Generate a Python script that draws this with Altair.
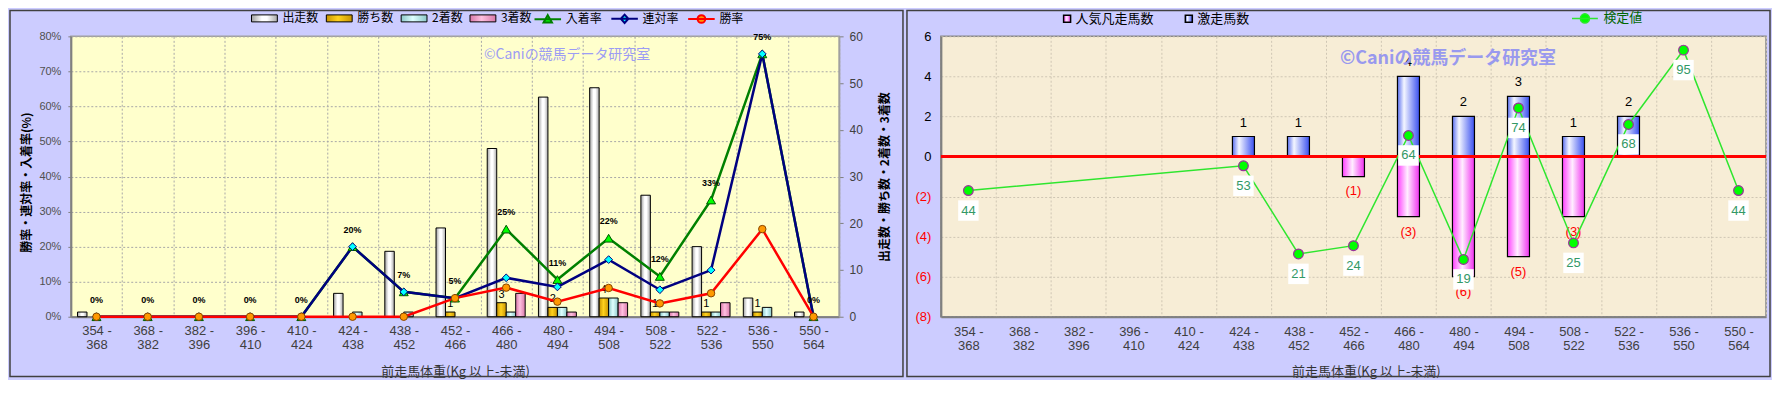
import altair as alt
import pandas as pd

# ---------------- data ----------------
CATS = ["354 - 368", "368 - 382", "382 - 396", "396 - 410", "410 - 424",
        "424 - 438", "438 - 452", "452 - 466", "466 - 480", "480 - 494",
        "494 - 508", "508 - 522", "522 - 536", "536 - 550", "550 - 564"]

BAR_NAMES = ["出走数", "勝ち数", "2着数", "3着数"]
RUNS = [1, 0, 0, 0, 0, 5, 14, 19, 36, 47, 49, 26, 15, 4, 1]
WINS = [0, 0, 0, 0, 0, 0, 0, 1, 3, 2, 4, 1, 1, 1, 0]
SECONDS = [0, 0, 0, 0, 0, 1, 1, 0, 1, 2, 4, 1, 1, 2, 0]
THIRDS = [0, 0, 0, 0, 0, 0, 0, 0, 5, 1, 3, 1, 3, 0, 0]

LINE_NAMES = ["入着率", "連対率", "勝率"]
PLACE_RATE = [0, 0, 0, 0, 0, 20, 7.1, 5.3, 25, 10.6, 22.4, 11.5, 33.3, 75, 0]
REN_RATE = [0, 0, 0, 0, 0, 20, 7.1, 5.3, 11.1, 8.5, 16.3, 7.7, 13.3, 75, 0]
WIN_RATE = [0, 0, 0, 0, 0, 0, 0, 5.3, 8.3, 4.3, 8.2, 3.8, 6.7, 25, 0]

R_NAMES = ["人気凡走馬数", "激走馬数"]
BONSO = [0, 0, 0, 0, 0, 0, 0, -1, -3, -6, -5, -3, 0, 0, 0]
GEKISO = [0, 0, 0, 0, 0, 1, 1, 0, 4, 2, 3, 1, 2, 0, 0]
KENTEI_NAME = "検定値"
KENTEI = [44, None, None, None, None, 53, 21, 24, 64, 19, 74, 25, 68, 95, 44]

WATERMARK = "©Caniの競馬データ研究室"
X_TITLE = "前走馬体重(Kg 以上-未満)"

# ---------------- tables ----------------
bar_df = pd.DataFrame([{"cat": c, "series": n, "v": arr[i]}
                       for i, c in enumerate(CATS)
                       for n, arr in zip(BAR_NAMES, [RUNS, WINS, SECONDS, THIRDS])])
line_df = pd.DataFrame([{"cat": c, "series": n, "v": arr[i]}
                        for i, c in enumerate(CATS)
                        for n, arr in zip(LINE_NAMES, [PLACE_RATE, REN_RATE, WIN_RATE])])
rbar_df = pd.DataFrame([{"cat": c, "series": n, "v": arr[i]}
                        for i, c in enumerate(CATS)
                        for n, arr in zip(R_NAMES, [BONSO, GEKISO])])
k_df = pd.DataFrame([{"cat": c, "k": KENTEI[i], "name": KENTEI_NAME}
                     for i, c in enumerate(CATS) if KENTEI[i] is not None])
wm_df = pd.DataFrame({"t": [WATERMARK]})
zero_df = pd.DataFrame({"v": [0]})

# ---------------- styles ----------------
JP = "Noto Sans CJK JP"
LAT = "Liberation Sans"
W1, W2, H = 770, 827, 281


def grad(stops):
    s = ",".join("{offset:%s,color:'%s'}" % (o, c) for o, c in stops)
    return {"expr": "{gradient:'linear',x1:0,y1:0,x2:1,y2:0,stops:[" + s + "]}"}


BAR_FILLS = [
    grad([(0, "#A0A0A0"), (0.4, "#FFFFFF"), (0.6, "#FFFFFF"), (1, "#A8A8A8")]),
    grad([(0, "#C89400"), (0.45, "#FFD21E"), (1, "#C89400")]),
    grad([(0, "#8CC8C8"), (0.45, "#DFFFFF"), (1, "#8CC8C8")]),
    grad([(0, "#D878A8"), (0.45, "#FFC0E0"), (1, "#D878A8")]),
]
LINE_COLORS = ["#008000", "#000080", "#FF0000"]
MARK_FILLS = ["#00FF00", "#00FFFF", "#FF9900"]
MARK_STROKES = ["#005500", "#000080", "#884400"]
MARK_SHAPES = ["triangle-up", "diamond", "circle"]
MARK_SIZES = [80, 60, 56]
R_FILLS = [
    grad([(0, "#FF40FF"), (0.45, "#FFEEFF"), (1, "#F030F0")]),
    grad([(0, "#5A6FF0"), (0.3, "#F4F6FF"), (1, "#3A50F0")]),
]

LINE_PART = "M-3.8,0H3.8"
LEG_PATHS = [LINE_PART + "M0,-1.2L1.2,0.9L-1.2,0.9Z",
             LINE_PART + "M0,-1.2L1.1,0L0,1.2L-1.1,0Z",
             LINE_PART + "M1.1,0A1.1,1.1,0,1,1,-1.1,0A1.1,1.1,0,1,1,1.1,0Z"]
LEG_BAR_PATH = "M-3.7,-1H3.7V1H-3.7Z"
K_PATH = "M-3.7,0H3.7M1.3,0A1.3,1.3,0,1,1,-1.3,0A1.3,1.3,0,1,1,1.3,0Z"

LAB = ("datum.label ? [split(datum.label,' - ')[0] + ' -', split(datum.label,' - ')[1]] : ''")

LEG1 = alt.Legend(title=None, orient="none", legendX=188, legendY=-24, direction="horizontal",
                  symbolType=LEG_BAR_PATH, symbolSize=49, symbolStrokeColor="black",
                  symbolStrokeWidth=1, labelFont=JP, labelFontSize=12, labelColor="black",
                  labelOffset=12, columnPadding=5, padding=0)
LEG2 = alt.Legend(title=None, orient="none", legendX=472, legendY=-24, direction="horizontal",
                  symbolSize=49, symbolStrokeWidth=2, labelFont=JP, labelFontSize=12,
                  labelColor="black", labelOffset=12, columnPadding=4, padding=0)
LEG3 = alt.Legend(title=None, orient="none", legendX=120, legendY=-24.5, direction="horizontal",
                  symbolType="square", symbolSize=49, symbolStrokeColor="black",
                  symbolStrokeWidth=1.5, labelFont=JP, labelFontSize=13, labelColor="black",
                  labelOffset=2, columnPadding=28, padding=0)
LEG4 = alt.Legend(title=None, orient="none", legendX=639, legendY=-24.5, direction="horizontal",
                  symbolType=K_PATH, symbolSize=49, symbolFillColor="#00FF00",
                  symbolStrokeWidth=1.5, labelFont=JP, labelFontSize=13, labelColor="#006600",
                  labelOffset=12, padding=0)

# ---------------- left panel ----------------
xL = alt.X("cat:N", sort=CATS, scale=alt.Scale(domain=CATS, paddingInner=0, paddingOuter=0),
           axis=alt.Axis(title=X_TITLE, labelExpr=LAB, labelAngle=0, labelFont=LAT, labelFontSize=13,
                         labelColor="#404040", labelLineHeight=14, labelPadding=8, ticks=False,
                         tickBand="extent", grid=True, gridColor="#A8A8A8", gridDash=[2, 2],
                         domainColor="#808080", domainWidth=2, titleFont=JP, titleFontSize=13,
                         titleFontWeight="normal", titleColor="#333333", titleY=55,
                         titleBaseline="middle"))
xoff = alt.XOffset("series:N", sort=BAR_NAMES,
                   scale=alt.Scale(domain=BAR_NAMES, paddingInner=0, paddingOuter=0.7))

yC = alt.Y("v:Q", scale=alt.Scale(domain=[0, 60], nice=False),
           axis=alt.Axis(orient="right", values=[0, 10, 20, 30, 40, 50, 60],
                         title="出走数・勝ち数・2着数・3着数", grid=False, labelFont=LAT,
                         labelFontSize=12, labelColor="#404040", tickSize=4, tickColor="#808080",
                         labelPadding=6, domainColor="#A0A0A0", domainWidth=1.5, titleFont=JP,
                         titleFontSize=12, titleFontWeight="bold", titleColor="black",
                         titleAngle=270, titleX=45, titleBaseline="middle"))

bars = alt.Chart(bar_df).transform_filter("datum.v > 0").mark_bar(
    stroke="black", strokeWidth=1).encode(
    x=xL, xOffset=xoff, y=yC,
    fill=alt.Fill("series:N", sort=BAR_NAMES,
                  scale=alt.Scale(domain=BAR_NAMES, range=BAR_FILLS), legend=LEG1))

win_lbl = alt.Chart(bar_df).transform_filter(
    "datum.series == '勝ち数' && datum.v > 0").mark_text(
    font=LAT, fontSize=11, baseline="bottom", dy=-3, color="black").encode(
    x=xL, xOffset=xoff, y=yC, text="v:Q")

bar_group = alt.layer(bars, win_lbl)

yP = alt.Y("v:Q", scale=alt.Scale(domain=[0, 80], nice=False),
           axis=alt.Axis(orient="left", values=list(range(0, 81, 10)),
                         labelExpr="datum.value + '%'", title="勝率・連対率・入着率(%)",
                         grid=True, gridColor="#A8A8A8", gridDash=[2, 2], labelFont=LAT,
                         labelFontSize=11, labelColor="#505050", tickSize=3, tickColor="#808080",
                         labelPadding=7, domainColor="#808080", domainWidth=2, titleFont=JP,
                         titleFontSize=12, titleFontWeight="bold", titleColor="black",
                         titleAngle=270, titleX=-44, titleY=146, titleBaseline="middle"))

stroke_scale = alt.Scale(domain=LINE_NAMES, range=LINE_COLORS)
lines = alt.Chart(line_df).mark_line(strokeWidth=2.5).encode(
    x=xL, y=yP, stroke=alt.Stroke("series:N", sort=LINE_NAMES, scale=stroke_scale, legend=LEG2))

point_layers = []
for name, shp, fc, sc, sz in zip(LINE_NAMES, MARK_SHAPES, MARK_FILLS, MARK_STROKES, MARK_SIZES):
    point_layers.append(
        alt.Chart(line_df).transform_filter("datum.series == '%s'" % name).mark_point(
            shape=shp, filled=True, fill=fc, stroke=sc, strokeWidth=1, size=sz, opacity=1
        ).encode(x=xL, y=yP))

hidden = alt.Chart(line_df).transform_filter("false").mark_point(filled=True, opacity=1).encode(
    x=xL, y=yP,
    stroke=alt.Stroke("series:N", sort=LINE_NAMES, scale=stroke_scale, legend=LEG2),
    color=alt.Color("series:N", sort=LINE_NAMES,
                    scale=alt.Scale(domain=LINE_NAMES, range=MARK_FILLS), legend=LEG2),
    shape=alt.Shape("series:N", sort=LINE_NAMES,
                    scale=alt.Scale(domain=LINE_NAMES, range=LEG_PATHS), legend=LEG2))

pct = alt.Chart(line_df).transform_filter("datum.series == '入着率'").transform_calculate(
    lbl="format(datum.v, '.0f') + '%'").mark_text(
    font=LAT, fontSize=9, fontWeight="bold", dy=-17, color="black").encode(
    x=xL, y=yP, text="lbl:N")

line_group = alt.layer(lines, *point_layers, hidden, pct)

frame1 = alt.Chart(wm_df).mark_rect(filled=False, stroke="#404040", strokeWidth=1.5).encode(
    x=alt.value(-61), x2=alt.value(W1 + 64), y=alt.value(-26), y2=alt.value(H + 60))
wm1 = alt.Chart(wm_df).mark_text(align="left", baseline="middle", font=JP, fontSize=14,
                                 color="#9C9CF4").encode(
    x=alt.value(414), y=alt.value(19), text="t:N")

left = alt.layer(frame1, bar_group, line_group, wm1).resolve_scale(y="independent").properties(
    width=W1, height=H, view=alt.ViewBackground(fill="#FFFFCC", stroke="#A0A0A0", strokeWidth=1.5))

# ---------------- right panel ----------------
xR = alt.X("cat:N", sort=CATS, scale=alt.Scale(domain=CATS, paddingInner=0, paddingOuter=0),
           axis=alt.Axis(title=X_TITLE, labelExpr=LAB, labelAngle=0, labelFont=LAT, labelFontSize=13,
                         labelColor="#404040", labelLineHeight=14, labelPadding=9, ticks=False,
                         tickBand="extent", grid=True, gridColor="#CFC6B4", gridDash=[2, 2],
                         domainColor="#808080", domainWidth=2, titleFont=JP, titleFontSize=13,
                         titleFontWeight="normal", titleColor="#333333", titleX=426, titleY=55,
                         titleBaseline="middle"))
yR = alt.Y("v:Q", scale=alt.Scale(domain=[-8, 6], nice=False),
           axis=alt.Axis(values=list(range(-8, 7, 2)),
                         labelExpr="datum.value < 0 ? '(' + abs(datum.value) + ')' : '' + datum.value",
                         labelColor={"condition": {"test": "datum.value < 0", "value": "#FF0000"},
                                     "value": "#000000"},
                         labelFont=LAT, labelFontSize=13, ticks=False, labelPadding=10, grid=True,
                         gridColor="#CFC6B4", gridDash=[2, 2], domainColor="#808080",
                         domainWidth=2, title=None))

rbars = alt.Chart(rbar_df).transform_filter("datum.v != 0").mark_bar(
    width=alt.RelativeBandSize(0.4), stroke="black", strokeWidth=1.2).encode(
    x=xR, y=yR,
    fill=alt.Fill("series:N", sort=R_NAMES, scale=alt.Scale(domain=R_NAMES, range=R_FILLS),
                  legend=LEG3))
zero_rule = alt.Chart(zero_df).mark_rule(color="#FF0000", strokeWidth=3).encode(y=yR)
pos_lbl = alt.Chart(rbar_df).transform_filter("datum.v > 0").mark_text(
    font=LAT, fontSize=13, dy=-14, color="black").encode(
    x=xR, y=yR, text="v:Q")
neg_lbl = alt.Chart(rbar_df).transform_filter("datum.v < 0").transform_calculate(
    lbl="'(' + abs(datum.v) + ')'").mark_text(
    font=LAT, fontSize=13, dy=15, color="#FF0000").encode(
    x=xR, y=yR, text="lbl:N")
rbar_group = alt.layer(rbars, zero_rule, pos_lbl, neg_lbl)

yK = alt.Y("k:Q", scale=alt.Scale(domain=[-1.8, 100], nice=False, zero=False), axis=None)
kline = alt.Chart(k_df).mark_line(strokeWidth=1.5).encode(
    x=xR, y=yK,
    stroke=alt.Stroke("name:N", scale=alt.Scale(domain=[KENTEI_NAME], range=["#2EE62E"]),
                      legend=LEG4))
kpts = alt.Chart(k_df).mark_point(shape="circle", filled=True, fill="#00FF00", stroke="#993399",
                                  strokeWidth=1.2, size=95, opacity=1).encode(x=xR, y=yK)
kbox = alt.Chart(k_df).mark_square(size=420, color="white", yOffset=20, opacity=1).encode(
    x=xR, y=yK)
ktxt = alt.Chart(k_df).mark_text(font=LAT, fontSize=13, color="#339966", yOffset=20).encode(
    x=xR, y=yK, text="k:Q")
k_group = alt.layer(kline, kpts, kbox, ktxt)

frame2 = alt.Chart(wm_df).mark_rect(filled=False, stroke="#404040", strokeWidth=1.5).encode(
    x=alt.value(-34), x2=alt.value(W2 + 4), y=alt.value(-26), y2=alt.value(H + 60))
wm2 = alt.Chart(wm_df).mark_text(align="left", baseline="middle", font=JP, fontSize=18,
                                 fontWeight="bold", color="#9999EE").encode(
    x=alt.value(400), y=alt.value(23), text="t:N")

right = alt.layer(frame2, rbar_group, wm2, k_group).resolve_scale(y="independent").properties(
    width=W2, height=H, view=alt.ViewBackground(fill="#F7EDD6", stroke="#888888", strokeWidth=1.5))

chart = alt.hconcat(left, right, spacing=0).resolve_scale(
    fill="independent", stroke="independent", color="independent", shape="independent"
).resolve_legend(
    fill="independent", stroke="independent", color="independent", shape="independent"
).properties(padding=0, background="#CCCCFF")
chart.save("out.html", embed_options={"renderer": "svg", "actions": False})
